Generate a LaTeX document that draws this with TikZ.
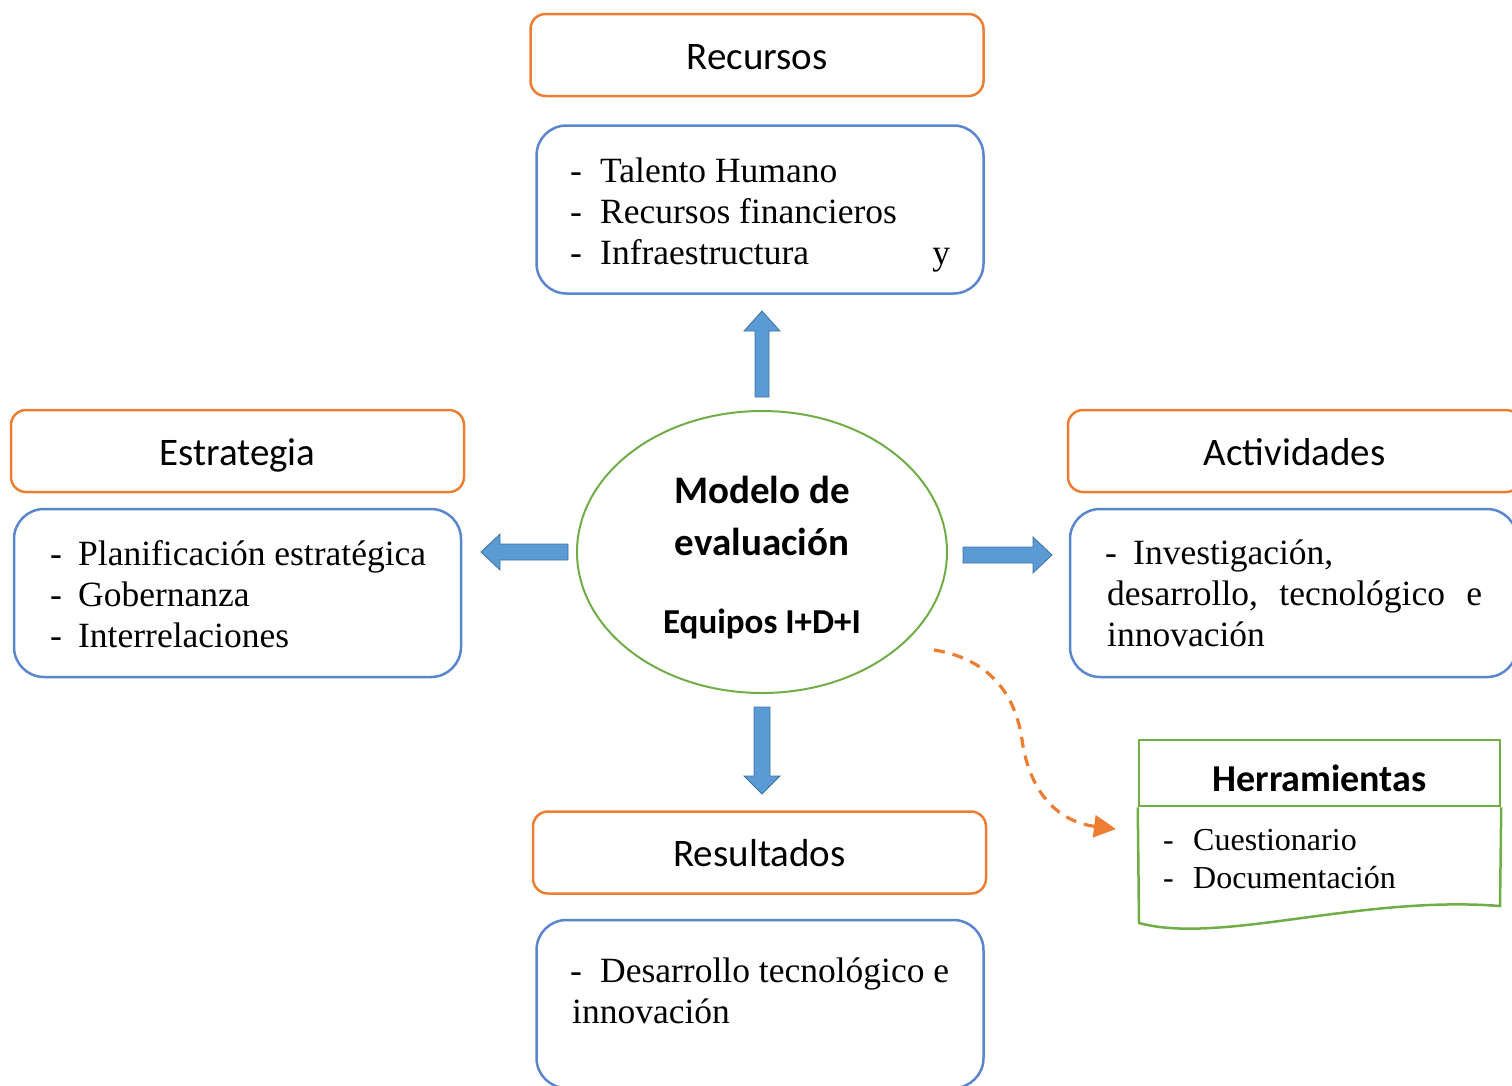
\documentclass[tikz,border=0pt]{standalone}
\usepackage{fontspec}
\setmainfont{Liberation Serif}
\newfontfamily\hdfont{Carlito}
\usetikzlibrary{shapes.geometric,arrows.meta}
\definecolor{orng}{HTML}{ED7D31}
\definecolor{blu}{HTML}{5A86D0}
\definecolor{grn}{HTML}{70AD47}
\definecolor{arrfill}{HTML}{5B9BD5}
\definecolor{arrdraw}{HTML}{41719C}
\begin{document}
\begin{tikzpicture}[x=1pt,y=-1pt,
  headbox/.style={draw=orng, line width=2.5pt, rounded corners=15pt, minimum width=453pt, minimum height=82pt, inner sep=0pt, font=\hdfont\fontsize{39}{47}\selectfont, text height=28pt, text depth=0pt},
  listbox/.style={draw=blu, line width=2.5pt, rounded corners=30pt, minimum width=447pt, minimum height=168pt, inner sep=0pt},
  item/.style={anchor=base west, inner sep=0pt, font=\fontsize{35.5}{41}\selectfont},
  smallitem/.style={anchor=base west, inner sep=0pt, font=\fontsize{32}{38}\selectfont},
  ctext/.style={anchor=base, inner sep=0pt, font=\hdfont\bfseries\fontsize{39}{47}\selectfont},
  blockarrow/.style={fill=arrfill, draw=arrdraw, line width=0.8pt},
  dashlink/.style={draw=orng, line width=3.2pt, dash pattern=on 11pt off 8pt, -{Triangle[length=22pt,width=22pt]}}
]
\useasboundingbox (0,0) rectangle (1512,1085);

% Recursos
\node[headbox] (rech) at (757,55) {Recursos};
\node[listbox] (recl) at (760,209.5) {};
\node[item] (r1) at (570,182) {\makebox[30pt][l]{-}Talento Humano};
\node[item] (r2) at (570,223) {\makebox[30pt][l]{-}Recursos financieros};
\node[item] (r3) at (570,264) {\makebox[30pt][l]{-}\hbox to 350pt{Infraestructura\hfill y}};

% Estrategia
\node[headbox] (esth) at (237.5,451) {Estrategia};
\node[listbox] (estl) at (237.5,593) {};
\node[item] (e1) at (50,565) {\makebox[28pt][l]{-}Planificación estratégica};
\node[item] (e2) at (50,606) {\makebox[28pt][l]{-}Gobernanza};
\node[item] (e3) at (50,647) {\makebox[28pt][l]{-}Interrelaciones};

% Actividades
\node[headbox] (acth) at (1294.5,451) {Actividades};
\node[listbox] (actl) at (1293.5,593) {};
\node[item] (a1) at (1105,564) {\makebox[28pt][l]{-}Investigación,};
\node[item] (a2) at (1107,605) {\hbox to 375pt{desarrollo,\hfill tecnológico\hfill e}};
\node[item] (a3) at (1107,646) {innovación};

% Resultados
\node[headbox] (resh) at (759.5,852.5) {Resultados};
\node[listbox] (resl) at (760,1004) {};
\node[item] (s1) at (570,982) {\makebox[30pt][l]{-}Desarrollo tecnológico e};
\node[item] (s2) at (572,1023) {innovación};

% Centre
\node[ellipse, draw=grn, line width=2pt, minimum width=370pt, minimum height=282pt] (mod) at (762,552) {};
\node[ctext] (m1) at (762,503) {Modelo de};
\node[ctext] (m2) at (762,555) {evaluación};
\node[ctext, font=\hdfont\bfseries\fontsize{35}{42}\selectfont] (m3) at (762,633) {Equipos I+D+I};

% Block arrows
\draw[blockarrow] (755,397) -- (755,331) -- (744,331) -- (762,311) -- (780,331) -- (769,331) -- (769,397) -- cycle;
\draw[blockarrow] (568,544) -- (500,544) -- (500,534) -- (481,552) -- (500,570) -- (500,560) -- (568,560) -- cycle;
\draw[blockarrow] (963,547) -- (1033,547) -- (1033,537) -- (1052,555) -- (1033,573) -- (1033,563) -- (963,563) -- cycle;
\draw[blockarrow] (754,707) -- (754,776) -- (744,776) -- (762,794) -- (780,776) -- (770,776) -- (770,707) -- cycle;

% Herramientas
\node[draw=grn, line width=2.5pt, minimum width=361pt, minimum height=66pt, inner sep=0pt, font=\hdfont\bfseries\fontsize{38}{46}\selectfont, text height=36pt, text depth=0pt] (herh) at (1319.5,773) {Herramientas};
\draw[grn, line width=2.5pt] (herh.south west) -- (1139,923) .. controls (1220,945) and (1360,895) .. (1500,906) -- (herh.south east);
\node[smallitem] (h1) at (1163,850) {\makebox[30pt][l]{-}Cuestionario};
\node[smallitem] (h2) at (1163,888) {\makebox[30pt][l]{-}Documentación};

% Dashed link
\coordinate (ds) at (934,650);
\coordinate (dm) at (1022,740);
\coordinate (dt) at (1116,829);
\draw[dashlink] (ds) .. controls (985,658) and (1015,690) .. (dm) .. controls (1030,795) and (1060,822) .. (dt);
\end{tikzpicture}
\end{document}
